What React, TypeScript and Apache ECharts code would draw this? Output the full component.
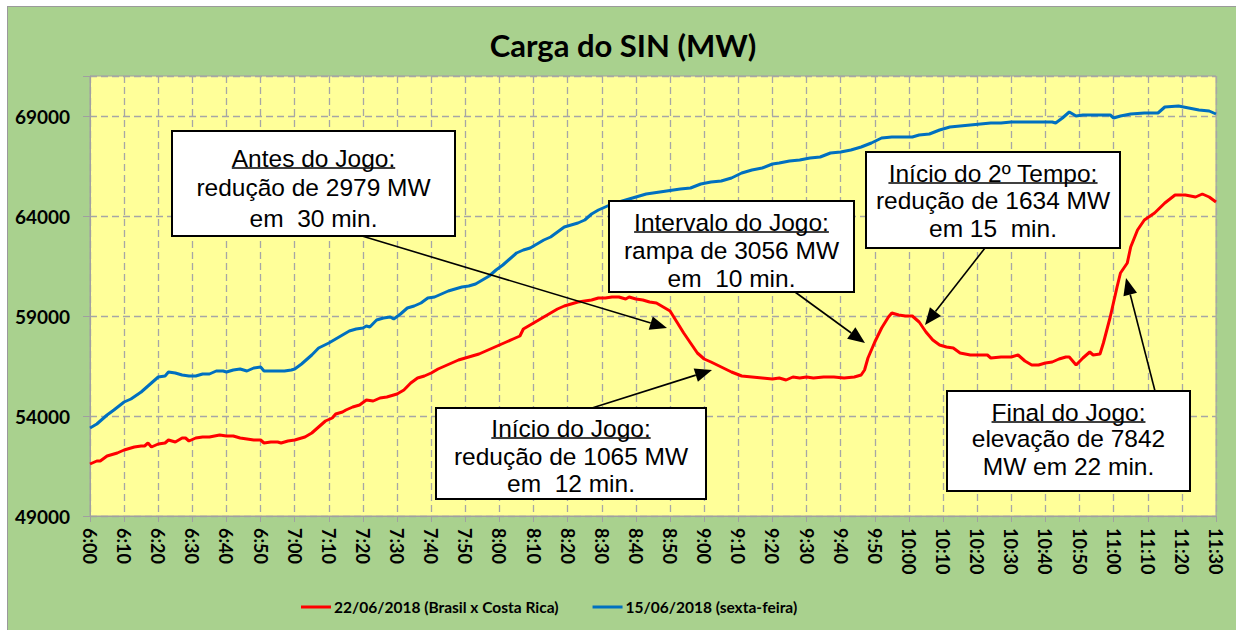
import React, { useEffect, useRef } from "react";
import * as echarts from "echarts";

const redTimes = ["6:00","6:02","6:03","6:05","6:08","6:10","6:13","6:15","6:16","6:17","6:18","6:20","6:22","6:23","6:25","6:27","6:28","6:29","6:31","6:33","6:35","6:38","6:40","6:42","6:44","6:46","6:48","6:50","6:51","6:53","6:55","6:56","6:58","7:00","7:03","7:05","7:07","7:09","7:11","7:12","7:14","7:15","7:17","7:19","7:21","7:23","7:25","7:27","7:29","7:30","7:32","7:34","7:36","7:38","7:40","7:42","7:44","7:46","7:48","7:50","7:52","7:54","7:56","7:58","8:00","8:02","8:04","8:06","8:07","8:09","8:11","8:13","8:15","8:17","8:19","8:21","8:23","8:25","8:27","8:29","8:31","8:33","8:35","8:37","8:38","8:40","8:42","8:44","8:46","8:48","8:50","8:52","8:54","8:56","8:58","9:00","9:02","9:05","9:08","9:11","9:14","9:17","9:20","9:22","9:24","9:26","9:28","9:30","9:32","9:35","9:38","9:41","9:44","9:46","9:47","9:48","9:50","9:52","9:54","9:55","9:57","9:59","10:01","10:03","10:05","10:07","10:09","10:11","10:13","10:15","10:18","10:20","10:23","10:24","10:27","10:30","10:32","10:34","10:36","10:38","10:40","10:42","10:44","10:46","10:47","10:49","10:51","10:53","10:54","10:56","10:57","10:59","11:01","11:02","11:04","11:05","11:07","11:09","11:12","11:15","11:18","11:21","11:24","11:26","11:28","11:30"];
const redValues = [51600,51750,51750,52000,52150,52300,52450,52500,52500,52650,52450,52600,52650,52800,52700,52900,52900,52750,52900,52950,52950,53050,53000,53000,52900,52850,52800,52800,52650,52700,52700,52650,52750,52800,52950,53150,53450,53750,53900,54100,54200,54300,54450,54550,54800,54750,54900,54950,55050,55100,55300,55650,55900,56000,56150,56350,56500,56650,56800,56900,57000,57100,57250,57400,57550,57700,57850,58000,58350,58550,58750,58950,59150,59350,59500,59600,59700,59750,59800,59900,59900,59950,59950,59850,59950,59850,59800,59700,59650,59450,59250,58700,58150,57650,57150,56850,56700,56450,56200,56000,55950,55900,55850,55900,55800,55950,55900,55950,55900,55950,55950,55900,55950,56050,56300,56900,57700,58400,58950,59150,59050,59000,59000,58700,58200,57800,57550,57450,57400,57150,57050,57050,57050,56900,56950,56950,57050,56750,56550,56550,56650,56700,56850,56950,56950,56550,56900,57200,57050,57100,57650,58950,60450,61150,61650,62450,63300,63800,64150,64650,65050,65050,64950,65100,64950,64700];

const blueTimes = ["6:00","6:02","6:05","6:07","6:10","6:12","6:15","6:17","6:19","6:20","6:22","6:23","6:25","6:27","6:29","6:31","6:33","6:35","6:37","6:39","6:40","6:42","6:44","6:46","6:48","6:50","6:51","6:53","6:55","6:57","6:59","7:00","7:02","7:05","7:07","7:10","7:12","7:14","7:16","7:18","7:20","7:21","7:22","7:24","7:26","7:28","7:29","7:31","7:33","7:35","7:37","7:39","7:41","7:43","7:45","7:47","7:49","7:51","7:53","7:55","7:57","7:59","8:01","8:03","8:05","8:07","8:09","8:11","8:13","8:15","8:17","8:19","8:21","8:23","8:25","8:27","8:29","8:31","8:33","8:35","8:37","8:39","8:41","8:43","8:45","8:47","8:49","8:51","8:53","8:56","8:59","9:02","9:05","9:08","9:11","9:14","9:17","9:20","9:22","9:25","9:28","9:31","9:34","9:37","9:40","9:43","9:46","9:49","9:52","9:55","9:58","10:01","10:03","10:06","10:09","10:12","10:15","10:18","10:21","10:24","10:27","10:30","10:33","10:36","10:39","10:42","10:43","10:45","10:47","10:49","10:51","10:54","10:57","10:59","11:00","11:02","11:05","11:09","11:13","11:15","11:19","11:22","11:25","11:28","11:30"];
const blueValues = [53400,53600,54050,54300,54700,54850,55200,55500,55800,55950,56000,56200,56150,56050,56000,56000,56100,56100,56250,56250,56200,56300,56350,56250,56400,56450,56250,56250,56250,56250,56300,56350,56600,57050,57400,57650,57850,58050,58250,58350,58400,58500,58450,58800,58900,58950,58850,59100,59400,59500,59650,59900,59950,60100,60250,60350,60450,60500,60600,60800,61000,61300,61550,61850,62150,62300,62400,62600,62800,62950,63200,63450,63550,63650,63800,64100,64300,64450,64600,64700,64800,64900,65000,65100,65150,65200,65250,65300,65350,65400,65600,65700,65750,65900,66150,66300,66400,66600,66650,66750,66800,66900,66950,67150,67200,67300,67450,67650,67900,67950,67950,67950,68050,68100,68300,68450,68500,68550,68600,68650,68650,68700,68700,68700,68700,68700,68650,68900,69200,69000,69050,69050,69050,69050,68900,69000,69100,69150,69150,69450,69500,69400,69300,69250,69100];

const seriesNames = ["22/06/2018 (Brasil x Costa Rica)", "15/06/2018 (sexta-feira)"];
const yTicks = [49000, 54000, 59000, 64000, 69000];
const titleText = "Carga do SIN (MW)";

const annotations = [
  { lines: ["Antes do Jogo:", "redução de 2979 MW", "em  30 min."] },
  { lines: ["Intervalo do Jogo:", "rampa de 3056 MW", "em  10 min."] },
  { lines: ["Início do 2º Tempo:", "redução de 1634 MW", "em 15  min."] },
  { lines: ["Início do Jogo:", "redução de 1065 MW", "em  12 min."] },
  { lines: ["Final do Jogo:", "elevação de 7842", "MW em 22 min."] },
];
// layout of the callout boxes (pixels)
const boxLayout = [
  { x: 172, y: 131, w: 283, h: 105, ly: [158, 187, 218], from: [362, 236], to: [667, 328] },
  { x: 609, y: 201, w: 245, h: 91, ly: [222, 250, 278], from: [795, 292], to: [865, 343] },
  { x: 866, y: 152, w: 254, h: 96, ly: [173, 200, 228], from: [985, 248], to: [925, 325] },
  { x: 436, y: 408, w: 270, h: 91, ly: [428, 456, 483], from: [592, 408], to: [712, 370] },
  { x: 947, y: 391, w: 243, h: 100, ly: [412, 438, 466], from: [1155, 391], to: [1126, 278] },
];

const toMin = (t: string) => {
  const [h, m] = t.split(":").map(Number);
  return (h - 6) * 60 + m;
};
const fmtMin = (v: number) => {
  const h = 6 + Math.floor(v / 60);
  const m = v % 60;
  return h + ":" + (m < 10 ? "0" + m : "" + m);
};

const ANN_FONT_SIZE = 24.5;
const ANN_FONT = `${ANN_FONT_SIZE}px "Liberation Sans", Arial, sans-serif`;

function measure(text: string, font: string) {
  const c = document.createElement("canvas");
  const ctx = c.getContext("2d")!;
  ctx.font = font;
  return ctx.measureText(text).width;
}

function buildGraphics() {
  const els: any[] = [];
  els.push({
    type: "text",
    x: 623,
    y: 45,
    z: 100,
    style: {
      text: titleText,
      font: 'bold 31px Lato, "Open Sans", sans-serif',
      fill: "#000",
      textAlign: "center",
      textVerticalAlign: "middle",
      align: "center",
      verticalAlign: "middle",
    },
  });
  annotations.forEach((a, i) => {
    const b = boxLayout[i];
    const cx = b.x + b.w / 2;
    const [x1, y1] = b.from;
    const [x2, y2] = b.to;
    const dx = x2 - x1, dy = y2 - y1;
    const len = Math.sqrt(dx * dx + dy * dy);
    const ux = dx / len, uy = dy / len;
    const hl = 17, hw = 7;
    const bx = x2 - ux * hl, by = y2 - uy * hl;
    els.push({
      type: "line",
      z: 100,
      shape: { x1, y1, x2: bx, y2: by },
      style: { stroke: "#000", lineWidth: 1.6 },
    });
    els.push({
      type: "polygon",
      z: 100,
      shape: {
        points: [
          [x2, y2],
          [bx - uy * hw, by + ux * hw],
          [bx + uy * hw, by - ux * hw],
        ],
      },
      style: { fill: "#000" },
    });
    els.push({
      type: "rect",
      z: 101,
      shape: { x: b.x, y: b.y, width: b.w, height: b.h },
      style: { fill: "#fff", stroke: "#000", lineWidth: 2 },
    });
    a.lines.forEach((ln, k) => {
      els.push({
        type: "text",
        z: 102,
        x: cx,
        y: b.ly[k],
        style: {
          text: ln,
          font: ANN_FONT,
          fill: "#000",
          textAlign: "center",
          textVerticalAlign: "middle",
          align: "center",
          verticalAlign: "middle",
        },
      });
      if (k === 0) {
        const w = measure(ln, ANN_FONT);
        els.push({
          type: "line",
          z: 102,
          shape: { x1: cx - w / 2, y1: b.ly[k] + 10, x2: cx + w / 2, y2: b.ly[k] + 10 },
          style: { stroke: "#000", lineWidth: 1.6 },
        });
      }
    });
  });
  return els;
}

export default function App() {
  const ref = useRef<HTMLDivElement>(null);
  useEffect(() => {
    if (!ref.current) return;
    const chart = echarts.init(ref.current, undefined, { renderer: "svg" });
    const redData = redTimes.map((t, i) => [toMin(t), redValues[i]]);
    const blueData = blueTimes.map((t, i) => [toMin(t), blueValues[i]]);
    const gridLine = { color: "#a6a6a6", width: 1.3, type: [7, 4] as any };
    chart.setOption({
      animation: false,
      backgroundColor: "transparent",
      grid: {
        left: 90,
        right: 20,
        top: 76,
        bottom: 114,
        show: true,
        backgroundColor: "#ffff99",
        borderColor: "#a0a0a0",
        borderWidth: 1,
        containLabel: false,
      },
      legend: {
        data: seriesNames,
        left: 296,
        top: 594,
        icon: "rect",
        itemWidth: 30,
        itemHeight: 3,
        itemGap: 34,
        textStyle: {
          fontFamily: 'Lato, "Open Sans", sans-serif',
          fontWeight: "bold",
          fontSize: 15.5,
          color: "#000",
          padding: [0, 0, 0, -2],
        },
      },
      xAxis: {
        type: "value",
        min: 0,
        max: 330,
        interval: 10,
        axisLine: { show: true, lineStyle: { color: "#a0a0a0" } },
        axisTick: { show: true, length: 6, lineStyle: { color: "#a0a0a0" } },
        splitLine: { show: true, lineStyle: gridLine },
        axisLabel: {
          rotate: -90,
          margin: 12,
          formatter: (v: number) => fmtMin(v),
          fontFamily: 'Lato, "Open Sans", sans-serif',
          fontWeight: "bold",
          fontSize: 18,
          color: "#000",
        },
      },
      yAxis: {
        type: "value",
        min: 49000,
        max: 71000,
        interval: 5000,
        axisLine: { show: true, lineStyle: { color: "#a0a0a0" } },
        axisTick: { show: true, length: 7, lineStyle: { color: "#a0a0a0" } },
        splitLine: { show: true, lineStyle: gridLine },
        axisLabel: {
          margin: 20,
          formatter: (v: number) => (yTicks.indexOf(v) >= 0 ? String(v) : ""),
          fontFamily: 'Lato, "Open Sans", sans-serif',
          fontWeight: "bold",
          fontSize: 19,
          color: "#000",
        },
      },
      series: [
        {
          name: seriesNames[0],
          type: "line",
          data: redData,
          showSymbol: false,
          symbol: "none",
          lineStyle: { color: "#ff0000", width: 3 },
          itemStyle: { color: "#ff0000" },
          z: 3,
        },
        {
          name: seriesNames[1],
          type: "line",
          data: blueData,
          showSymbol: false,
          symbol: "none",
          lineStyle: { color: "#0070c0", width: 3 },
          itemStyle: { color: "#0070c0" },
          z: 2,
        },
      ],
      graphic: buildGraphics(),
    });
    return () => chart.dispose();
  }, []);
  return (
    <div style={{ position: "fixed", left: 0, top: 0, width: 1236, height: 630, background: "#fff" }}>
      <div
        style={{
          position: "absolute",
          left: 7,
          top: 6,
          width: 1240,
          height: 640,
          background: "#a9d18e",
          border: "1px solid #9a9a9a",
          boxSizing: "border-box",
        }}
      />
      <div ref={ref} style={{ position: "absolute", left: 0, top: 0, width: 1236, height: 630 }} />
    </div>
  );
}
